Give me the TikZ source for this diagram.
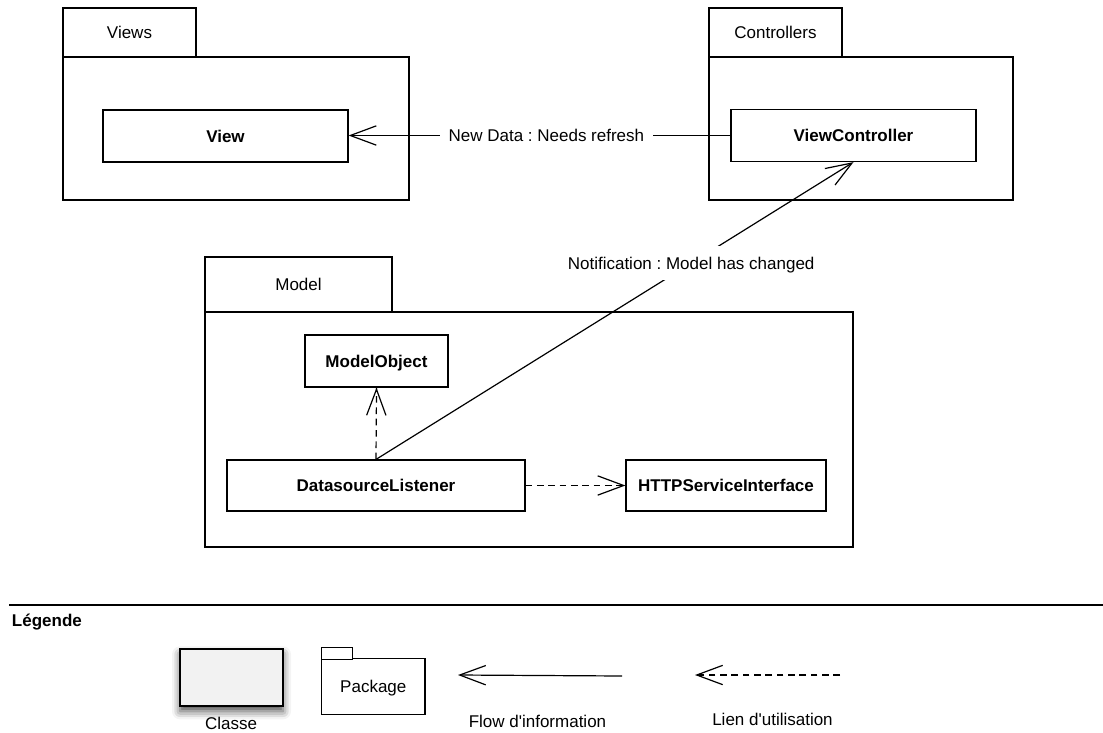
\documentclass[tikz,border=0pt]{standalone}
\usepackage{fontspec}
\setmainfont{Liberation Sans}
\usetikzlibrary{arrows.meta,shadows.blur,decorations.markings}
\frenchspacing
\begin{document}
\begin{tikzpicture}[x=0.75pt,y=-0.75pt,
  every node/.style={font=\fontsize{12.75}{15}\selectfont, text height=9.13pt, text depth=0pt},
  ln/.style={line width=0.9pt},
  sz/.style 2 args={minimum width=#1*0.75pt, minimum height=#2*0.75pt, inner sep=0pt},
  pkgbody/.style={draw, ln, fill=white},
  pkgtab/.style={draw, ln, fill=white},
  cls/.style={draw, ln, fill=white, font=\fontsize{12.75}{15}\selectfont\bfseries},
  lbl/.style={fill=white, inner xsep=6.5pt, inner ysep=8pt},
  plain/.style={inner sep=0pt},
  flow/.style={ln, -{Straight Barb[length=19.5pt,width=14.5pt]}},
  uses/.style={ln, dash pattern=on 5pt off 3.5pt,
    postaction={decorate, decoration={markings,
      mark=at position 1 with {\arrow[solid, line width=0.9pt]{Straight Barb[length=19.5pt,width=14.5pt]}}}}}
]
\useasboundingbox (0,0) rectangle (1103,732);

% Views package
\node[pkgbody, sz={346}{143}] (viewsB) at (236,128.5) {};
\node[pkgtab, sz={133}{49}] (viewsT) at (129.5,32.5) {Views};
\node[cls, sz={245}{52}] (view) at (225.5,136) {View};

% Controllers package
\node[pkgbody, sz={304}{143}] (ctrlB) at (861,128.5) {};
\node[pkgtab, sz={133}{49}] (ctrlT) at (775.5,32.5) {Controllers};
\node[cls, sz={245}{52}] (vc) at (853.5,135.5) {ViewController};

% Model package
\node[pkgbody, sz={648}{235}] (modelB) at (529,429.5) {};
\node[pkgtab, sz={187}{55}] (modelT) at (298.5,284.5) {Model};
\node[cls, sz={143}{52}] (mo) at (376.5,361) {ModelObject};
\node[cls, sz={298}{51}] (ds) at (376,485.5) {DatasourceListener};
\node[cls, sz={200}{51}] (http) at (726,485.5) {HTTPServiceInterface};

% connectors
\draw[flow] (vc.west) -- (vc.west -| view.east)
  node[lbl, pos=0.482] (newdata) {New Data : Needs refresh};
\draw[flow] (ds.north) -- (vc.south)
  node[lbl, pos=0.66] (notif) {Notification : Model has changed};
\draw[uses] (ds.north) -- (mo.south);
\draw[uses] (ds.east) -- (http.west);

% Legend
\coordinate (lg1) at (9,605);
\coordinate (lg2) at (1103,605);
\draw[ln] (lg1) -- (lg2);
\node[plain, anchor=west, font=\fontsize{12.75}{15}\selectfont\bfseries] (leg) at (11.7,620.5) {Légende};

\node[draw, ln, fill=black!5, sz={103}{57},
  blur shadow={shadow xshift=0pt, shadow yshift=-4pt, shadow blur radius=6pt, shadow opacity=70}]
  (classe) at (231.5,677.5) {};
\node[plain] (classeL) at (231,723) {Classe};

\node[pkgbody, sz={103.3}{56}] (pkgB) at (373.3,686.3) {Package};
\node[pkgtab, sz={30.6}{9.3}] (pkgT) at (337,653.7) {};

\coordinate (f1) at (622,676);
\coordinate (f2) at (458,675);
\draw[flow] (f1) -- (f2);
\node[plain] (flowL) at (537.5,721) {Flow d\textquotesingle information};

\coordinate (u1) at (840,675);
\coordinate (u2) at (695,675);
\draw[uses] (u1) -- (u2);
\node[plain] (useL) at (772.5,719) {Lien d\textquotesingle utilisation};
\end{tikzpicture}
\end{document}
